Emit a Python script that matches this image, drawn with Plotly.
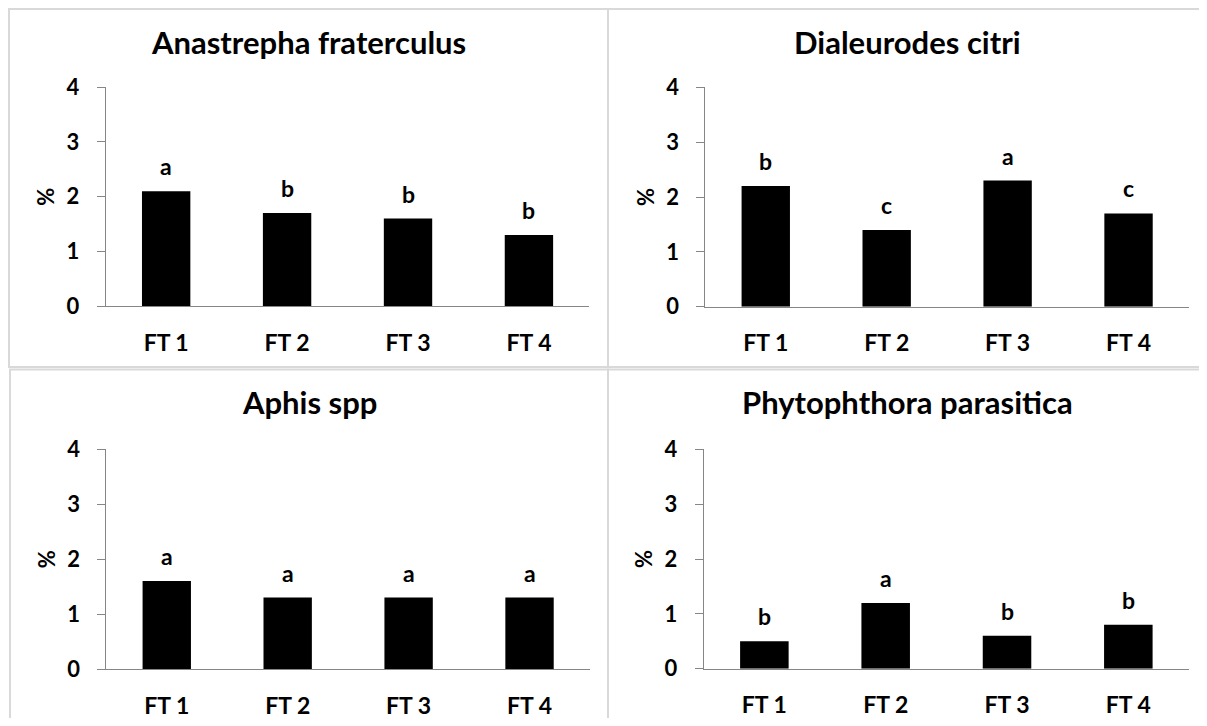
import plotly.graph_objects as go

categories = ["FT 1", "FT 2", "FT 3", "FT 4"]
titles = ["Anastrepha fraterculus", "Dialeurodes citri", "Aphis spp", "Phytophthora parasitica"]
anastrepha = [2.1, 1.7, 1.6, 1.3]
anastrepha_letters = ["a", "b", "b", "b"]
dialeurodes = [2.2, 1.4, 2.3, 1.7]
dialeurodes_letters = ["b", "c", "a", "c"]
aphis = [1.6, 1.3, 1.3, 1.3]
aphis_letters = ["a", "a", "a", "a"]
phytophthora = [0.5, 1.2, 0.6, 0.8]
phytophthora_letters = ["b", "a", "b", "b"]
y_ticks = [0, 1, 2, 3, 4]
y_label = "%"

# page body has an 8px margin; size the figure to fit the window without scrolling
OFF = 8
W, H = 1207 - OFF, 726 - 2 * OFF
FONT = "Lato"

def px(x):
    return (x - OFF) / W

def py(y):
    return 1 - (y - OFF) / H

panels = [
    dict(values=anastrepha, letters=anastrepha_letters, title=titles[0],
         xd=(105.7, 589.4), yd=(306.0, 87.3), tc=(308.5, 42.0),
         box=(9, 9, 608, 367)),
    dict(values=dialeurodes, letters=dialeurodes_letters, title=titles[1],
         xd=(705.3, 1189.0), yd=(306.7, 87.3), tc=(907.5, 42.0),
         box=(608, 9, 1215, 367)),
    dict(values=aphis, letters=aphis_letters, title=titles[2],
         xd=(106.3, 590.0), yd=(669.0, 449.3), tc=(309.0, 402.0),
         box=(10, 369.5, 608, 740)),
    dict(values=phytophthora, letters=phytophthora_letters, title=titles[3],
         xd=(703.7, 1189.0), yd=(668.7, 449.3), tc=(907.0, 402.0),
         box=(608, 369.5, 1205.5, 740)),
]

fig = go.Figure()
layout = dict(
    width=W, height=H,
    margin=dict(l=0, r=0, t=0, b=0, autoexpand=False),
    paper_bgcolor="white", plot_bgcolor="white",
    showlegend=False,
    font=dict(family=FONT, color="black"),
    annotations=[], shapes=[],
)

for i, p in enumerate(panels, start=1):
    xa = "x" if i == 1 else f"x{i}"
    ya = "y" if i == 1 else f"y{i}"
    fig.add_trace(go.Bar(
        x=categories, y=p["values"], xaxis=xa, yaxis=ya,
        marker=dict(color="black", line=dict(width=0)),
        width=0.4, hoverinfo="x+y",
    ))
    xkey = "xaxis" if i == 1 else f"xaxis{i}"
    ykey = "yaxis" if i == 1 else f"yaxis{i}"
    layout[xkey] = dict(
        domain=[px(p["xd"][0]), px(p["xd"][1])],
        anchor=ya, automargin=False,
        showline=True, linecolor="#868686", linewidth=1,
        ticks="", showgrid=False, zeroline=False,
        tickfont=dict(family=FONT, size=23, weight="bold", color="black"),
        ticklabelstandoff=16,
        fixedrange=True,
    )
    layout[ykey] = dict(
        domain=[py(p["yd"][0]), py(p["yd"][1])],
        anchor=xa, automargin=False,
        range=[0, 4], tickvals=y_ticks,
        showline=True, linecolor="#868686", linewidth=1,
        ticks="outside", ticklen=8, tickcolor="#868686", tickwidth=1,
        showgrid=False, zeroline=False,
        tickfont=dict(family=FONT, size=22, weight="bold", color="black"),
        ticklabelstandoff=13,
        title=dict(text=y_label, standoff=5,
                   font=dict(family=FONT, size=22, weight="bold", color="black")),
        fixedrange=True,
    )
    for c, v, t in zip(categories, p["values"], p["letters"]):
        layout["annotations"].append(dict(
            x=c, y=v, xref=xa, yref=ya, text=t, showarrow=False,
            yanchor="bottom", yshift=9,
            font=dict(family=FONT, size=23, weight="bold", color="black"),
        ))
    layout["annotations"].append(dict(
        x=px(p["tc"][0]), y=py(p["tc"][1]), xref="paper", yref="paper",
        text=p["title"], showarrow=False, xanchor="center", yanchor="middle",
        font=dict(family=FONT, size=31, weight="bold", color="black"),
    ))
    b = p["box"]
    layout["shapes"].append(dict(
        type="rect", xref="paper", yref="paper",
        x0=px(b[0]), x1=px(b[2]), y0=py(b[3]), y1=py(b[1]),
        line=dict(color="#d9d9d9", width=2), fillcolor="rgba(0,0,0,0)", layer="below",
    ))

fig.update_layout(**layout)
fig.write_html("out.html")
